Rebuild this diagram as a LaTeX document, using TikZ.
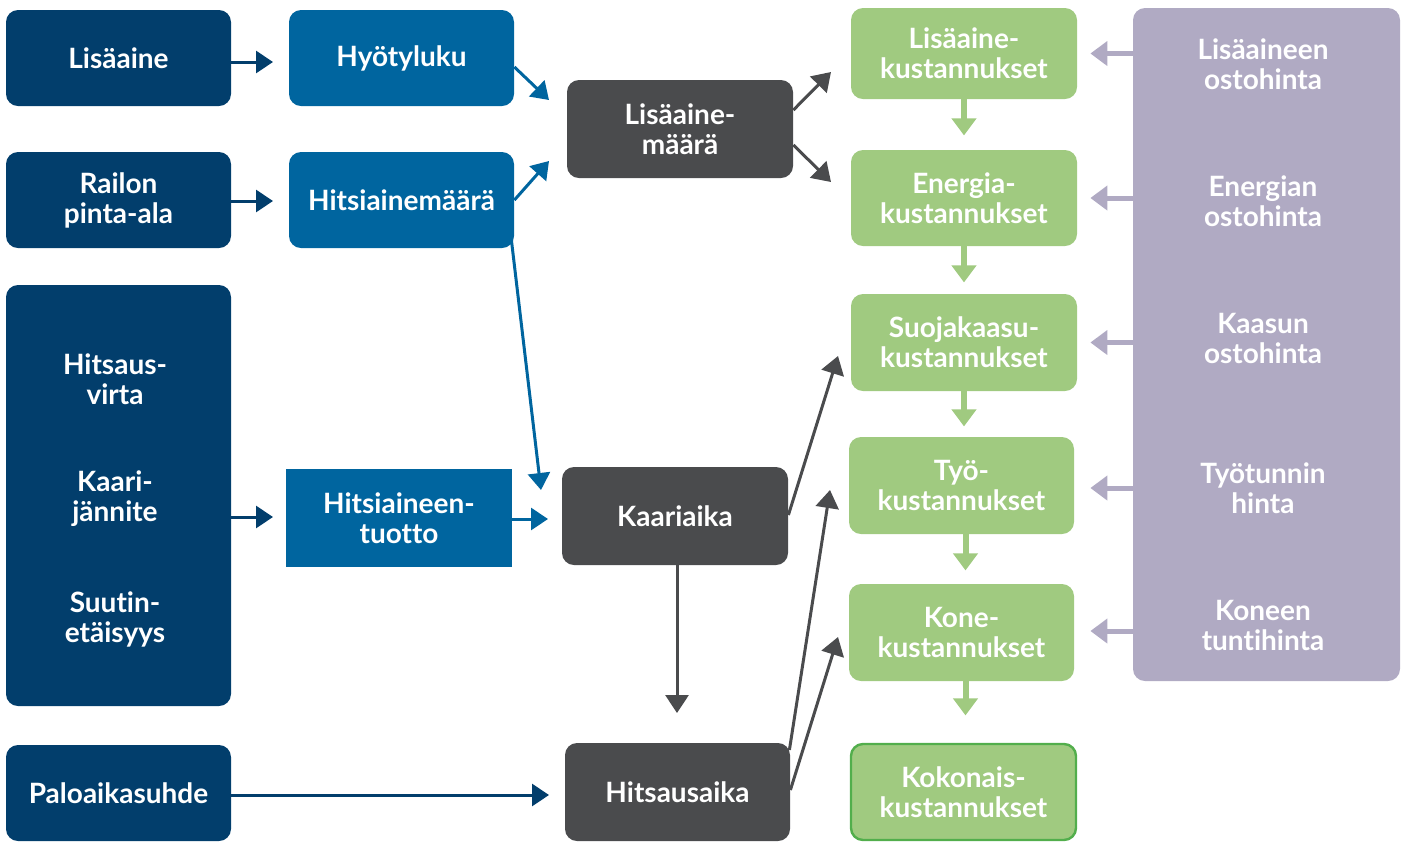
\documentclass[tikz,border=0pt]{standalone}
\usepackage{fontspec}
\setmainfont{Lato}[Ligatures={NoCommon}]
\usetikzlibrary{arrows.meta}
\definecolor{navy}{HTML}{023E6C}
\definecolor{midblue}{HTML}{00659F}
\definecolor{dgray}{HTML}{4A4B4D}
\definecolor{lgreen}{HTML}{A0CA80}
\definecolor{bgreen}{HTML}{52AE4C}
\definecolor{lpurple}{HTML}{B0AAC3}
\tikzset{
  box/.style={rounded corners=6pt, text=white, align=center,
    font=\fontsize{14}{15}\selectfont\bfseries, inner sep=0pt},
  navybox/.style={box, fill=navy},
  bluebox/.style={box, fill=midblue},
  graybox/.style={box, fill=dgray},
  greenbox/.style={box, fill=lgreen},
  lbl/.style={text=white, align=center, font=\fontsize{14}{15}\selectfont\bfseries, inner sep=0pt},
  navyarr/.style={draw=navy, line width=1.5pt, -{Triangle[length=8.5pt,width=11pt]}},
  bluearr/.style={draw=midblue, line width=1.5pt, -{Triangle[length=8.5pt,width=11pt]}},
  grayarr/.style={draw=dgray, line width=1.5pt, -{Triangle[length=9pt,width=11.5pt]}},
  greenarr/.style={draw=lgreen, line width=3pt, -{Triangle[length=8.5pt,width=12pt]}},
  purparr/.style={draw=lpurple, line width=2.5pt, -{Triangle[length=8.5pt,width=12pt]}},
}
\begin{document}
\begin{tikzpicture}[x=0.5pt,y=-0.5pt]
\useasboundingbox (0,0) rectangle (1405,843);
% column 1
\node[navybox, minimum width=112.5pt, minimum height=48pt] (lis) at (118.5,58) {Lisäaine};
\node[navybox, minimum width=112.5pt, minimum height=48pt] (rai) at (118.5,200) {Railon\\pinta-ala};
\node[navybox, minimum width=112.5pt, minimum height=210.5pt] (big) at (118.5,495.5) {};
\node[lbl] (hv) at (115,379) {Hitsaus-\\virta};
\node[lbl] (kj) at (115,499) {Kaari-\\jännite};
\node[lbl] (se) at (115,619) {Suutin-\\etäisyys};
\node[navybox, minimum width=112.5pt, minimum height=48pt] (pal) at (118.5,793) {Paloaikasuhde};
% column 2
\node[bluebox, minimum width=112.5pt, minimum height=48pt] (hyo) at (401.5,58) {Hyötyluku};
\node[bluebox, minimum width=112.5pt, minimum height=48pt] (hma) at (401.5,200) {Hitsiainemäärä};
\node[bluebox, rounded corners=0pt, minimum width=113pt, minimum height=49pt] (htu) at (399,518) {Hitsiaineen-\\tuotto};
% column 3
\node[graybox, minimum width=113pt, minimum height=49pt] (lma) at (680,129) {Lisäaine-\\määrä};
\node[graybox, minimum width=113pt, minimum height=49pt] (kaa) at (675,516) {Kaariaika};
\node[graybox, minimum width=112.5pt, minimum height=49pt] (hau) at (677.5,792) {Hitsausaika};
% column 4
\node[greenbox, minimum width=113pt, minimum height=45.5pt] (lk) at (964,53.5) {Lisäaine-\\kustannukset};
\node[greenbox, minimum width=113pt, minimum height=48pt] (ek) at (964,198) {Energia-\\kustannukset};
\node[greenbox, minimum width=113pt, minimum height=48.5pt] (sk) at (964,342.5) {Suojakaasu-\\kustannukset};
\node[greenbox, minimum width=112.5pt, minimum height=48.5pt] (tk) at (961.5,485.5) {Työ-\\kustannukset};
\node[greenbox, minimum width=112.5pt, minimum height=48.5pt] (kk) at (961.5,632.5) {Kone-\\kustannukset};
\node[greenbox, draw=bgreen, line width=1.2pt, minimum width=112.5pt, minimum height=48pt] (kok) at (963.5,792) {Kokonais-\\kustannukset};
% column 5
\node[box, fill=lpurple, minimum width=133.5pt, minimum height=336.5pt] (pur) at (1266.5,344.5) {};
\node[lbl] (p1) at (1263,64) {Lisäaineen\\ostohinta};
\node[lbl] (p2) at (1263,201) {Energian\\ostohinta};
\node[lbl] (p3) at (1263,338) {Kaasun\\ostohinta};
\node[lbl] (p4) at (1263,488) {Työtunnin\\hinta};
\node[lbl] (p5) at (1263,625) {Koneen\\tuntihinta};
% arrow tips
\coordinate (t1) at (273,62);
\coordinate (t2) at (273,201);
\coordinate (t3) at (273,517);
\coordinate (t4) at (549,795);
\coordinate (t5) at (549,100);
\coordinate (t6) at (549,161);
\coordinate (t7) at (541,490);
\coordinate (t8) at (548,519);
\coordinate (t9) at (831,72);
\coordinate (t10) at (831,182);
\coordinate (t11) at (838,356);
\coordinate (t12) at (677,713);
\coordinate (t13) at (830,490);
\coordinate (t14) at (838,637);
% navy
\draw[navyarr] (lis.east |- t1) -- (t1);
\draw[navyarr] (rai.east |- t2) -- (t2);
\draw[navyarr] (big.east |- t3) -- (t3);
\draw[navyarr] (pal.east |- t4) -- (t4);
% blue
\draw[bluearr] ([yshift=-4.5pt]hyo.east) -- (t5);
\draw[bluearr] (hma.east) -- (t6);
\draw[bluearr] ([xshift=-1.5pt,yshift=-20pt]hma.east) -- (t7);
\draw[bluearr] (htu.east |- t8) -- (t8);
% gray
\draw[grayarr] ([yshift=9.5pt]lma.east) -- (t9);
\draw[grayarr] ([yshift=-8pt]lma.east) -- (t10);
\draw[grayarr] ([yshift=0.5pt]kaa.east) -- (t11);
\draw[grayarr] (kaa.south -| t12) -- (t12);
\draw[grayarr] ([xshift=-0.5pt,yshift=21pt]hau.east) -- (t13);
\draw[grayarr] ([yshift=1pt]hau.east) -- (t14);
% green
\draw[greenarr] (lk.south) -- ([yshift=-18pt]lk.south);
\draw[greenarr] (ek.south) -- ([yshift=-18pt]ek.south);
\draw[greenarr] (sk.south) -- ([yshift=-17.5pt]sk.south);
\draw[greenarr] ([xshift=2pt]tk.south) -- ([xshift=2pt,yshift=-18pt]tk.south);
\draw[greenarr] ([xshift=2pt]kk.south) -- ([xshift=2pt,yshift=-17pt]kk.south);
% purple
\draw[purparr] (pur.west |- lk.center) -- ([xshift=6.5pt]lk.east |- lk.center);
\draw[purparr] (pur.west |- ek.center) -- ([xshift=6.5pt]ek.east |- ek.center);
\draw[purparr] (pur.west |- sk.center) -- ([xshift=6.5pt]sk.east |- sk.center);
\draw[purparr] (pur.west |- 0,488) -- ([xshift=8pt]tk.east |- 0,488);
\draw[purparr] (pur.west |- 0,631) -- ([xshift=8pt]kk.east |- 0,631);
\end{tikzpicture}
\end{document}
